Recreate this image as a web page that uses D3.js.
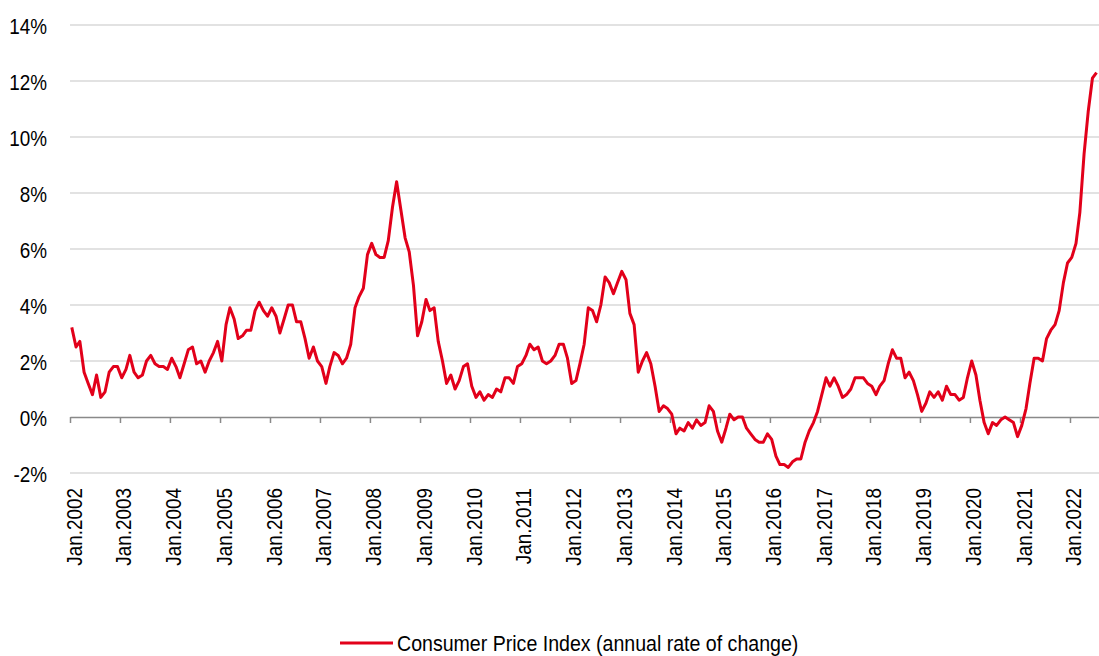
<!DOCTYPE html>
<html>
<head>
<meta charset="utf-8">
<script src="https://cdn.jsdelivr.net/npm/d3@7/dist/d3.min.js"></script>
<style>
body { margin: 0; background: #fff; }
text { font-family: "Liberation Sans", Arial, sans-serif; fill: #000; }
</style>
</head>
<body>
<div id="chart"></div>
<script>
var width = 1099, height = 656;

//data, monthly from Jan.2002
var startYear = 2002;
var yearLabels = ["Jan.2002","Jan.2003","Jan.2004","Jan.2005","Jan.2006","Jan.2007","Jan.2008",
    "Jan.2009","Jan.2010","Jan.2011","Jan.2012","Jan.2013","Jan.2014","Jan.2015","Jan.2016",
    "Jan.2017","Jan.2018","Jan.2019","Jan.2020","Jan.2021","Jan.2022"];
var yTicks = [-2, 0, 2, 4, 6, 8, 10, 12, 14];
var cpi = [
    3.2, 2.5, 2.7, 1.6, 1.2, 0.8, 1.5, 0.7, 0.9, 1.6, 1.8, 1.8,
    1.4, 1.7, 2.2, 1.6, 1.4, 1.5, 2.0, 2.2, 1.9, 1.8, 1.8, 1.7,
    2.1, 1.8, 1.4, 1.9, 2.4, 2.5, 1.9, 2.0, 1.6, 2.0, 2.3, 2.7,
    2.0, 3.3, 3.9, 3.5, 2.8, 2.9, 3.1, 3.1, 3.8, 4.1, 3.8, 3.6,
    3.9, 3.6, 3.0, 3.5, 4.0, 4.0, 3.4, 3.4, 2.8, 2.1, 2.5, 2.0,
    1.8, 1.2, 1.8, 2.3, 2.2, 1.9, 2.1, 2.6, 3.9, 4.3, 4.6, 5.8,
    6.2, 5.8, 5.7, 5.7, 6.3, 7.5, 8.4, 7.4, 6.4, 5.9, 4.7, 2.9,
    3.4, 4.2, 3.8, 3.9, 2.7, 2.0, 1.2, 1.5, 1.0, 1.3, 1.8, 1.9,
    1.1, 0.7, 0.9, 0.6, 0.8, 0.7, 1.0, 0.9, 1.4, 1.4, 1.2, 1.8,
    1.9, 2.2, 2.6, 2.4, 2.5, 2.0, 1.9, 2.0, 2.2, 2.6, 2.6, 2.1,
    1.2, 1.3, 1.9, 2.6, 3.9, 3.8, 3.4, 4.0, 5.0, 4.8, 4.4, 4.8,
    5.2, 4.9, 3.7, 3.3, 1.6, 2.0, 2.3, 1.9, 1.1, 0.2, 0.4, 0.3,
    0.1, -0.6, -0.4, -0.5, -0.2, -0.4, -0.1, -0.3, -0.2, 0.4, 0.2, -0.5,
    -0.9, -0.4, 0.1, -0.1, 0.0, 0.0, -0.4, -0.6, -0.8, -0.9, -0.9, -0.6,
    -0.8, -1.4, -1.7, -1.7, -1.8, -1.6, -1.5, -1.5, -0.9, -0.5, -0.2, 0.2,
    0.8, 1.4, 1.1, 1.4, 1.1, 0.7, 0.8, 1.0, 1.4, 1.4, 1.4, 1.2,
    1.1, 0.8, 1.1, 1.3, 1.9, 2.4, 2.1, 2.1, 1.4, 1.6, 1.3, 0.8,
    0.2, 0.5, 0.9, 0.7, 0.9, 0.6, 1.1, 0.8, 0.8, 0.6, 0.7, 1.4,
    2.0, 1.5, 0.6, -0.2, -0.6, -0.2, -0.3, -0.1, 0.0, -0.1, -0.2, -0.7,
    -0.3, 0.3, 1.2, 2.1, 2.1, 2.0, 2.8, 3.1, 3.3, 3.8, 4.8, 5.5,
    5.7, 6.2, 7.3, 9.4, 10.9, 12.1, 12.3
];
var legendLabel = "Consumer Price Index (annual rate of change)";

var red = "#e2001a";
//no narrow font installed, so squeeze the regular one
var narrow = 0.84;
var legendNarrow = 0.87;

var svg = d3.select("#chart").append("svg")
    .attr("width", width)
    .attr("height", height);

var x = d3.scaleTime()
    .domain([new Date(startYear, 0, 1), new Date(2022, 7, 1)])
    .range([70, 1099]);

var y = d3.scaleLinear()
    .domain([-2, 14])
    .range([473, 25]);

//gridlines
svg.append("g").selectAll("line.grid")
    .data(yTicks.filter(function(d){ return d != 0; }))
    .enter().append("line")
    .attr("class", "grid")
    .attr("x1", 70)
    .attr("x2", width)
    .attr("y1", function(d){ return y(d); })
    .attr("y2", function(d){ return y(d); })
    .attr("stroke", "#d9d9d9")
    .attr("stroke-width", 1.5);

//y labels
var yAxis = d3.axisLeft(y)
    .tickValues(yTicks)
    .tickFormat(function(d){ return d + "%"; })
    .tickSize(0)
    .tickPadding(0);
var yg = svg.append("g")
    .attr("transform", "translate(47,0)")
    .call(yAxis);
yg.select(".domain").remove();
yg.selectAll("text")
    .attr("x", 0)
    .attr("dy", "0.36em")
    .attr("transform", "scale(" + narrow + ",1)")
    .style("font-size", "22.5px")
    .style("font-family", "'Liberation Sans', Arial, sans-serif");

//x axis on the zero line
var yearDates = yearLabels.map(function(d, i){ return new Date(startYear + i, 0, 1); });
var xAxis = d3.axisBottom(x)
    .tickValues(yearDates)
    .tickFormat(function(d, i){ return yearLabels[i]; })
    .tickSizeInner(6)
    .tickSizeOuter(0);
var xg = svg.append("g")
    .attr("transform", "translate(0," + y(0) + ")")
    .call(xAxis);
xg.select(".domain").attr("stroke", "#898989").attr("stroke-width", 1.5);
xg.selectAll(".tick line").attr("stroke", "#898989").attr("stroke-width", 1.5);
xg.selectAll("text")
    .attr("transform", "rotate(-90) scale(" + narrow + ",1)")
    .attr("x", -71 / narrow)
    .attr("y", 11)
    .attr("dy", 0)
    .attr("text-anchor", "end")
    .style("font-size", "22.5px")
    .style("font-family", "'Liberation Sans', Arial, sans-serif");

//cpi line, points in the middle of each month
var line = d3.line()
    .x(function(d, i){ return x(new Date(startYear, i, 14)); })
    .y(function(d){ return y(d); });

svg.append("path")
    .datum(cpi)
    .attr("fill", "none")
    .attr("stroke", red)
    .attr("stroke-width", 3)
    .attr("stroke-linejoin", "round")
    .attr("d", line);

//legend
svg.append("line")
    .attr("x1", 340)
    .attr("x2", 393)
    .attr("y1", 643)
    .attr("y2", 643)
    .attr("stroke", red)
    .attr("stroke-width", 3);
svg.append("text")
    .attr("transform", "translate(397,651) scale(" + legendNarrow + ",1)")
    .style("font-size", "22.5px")
    .text(legendLabel);
</script>
</body>
</html>
